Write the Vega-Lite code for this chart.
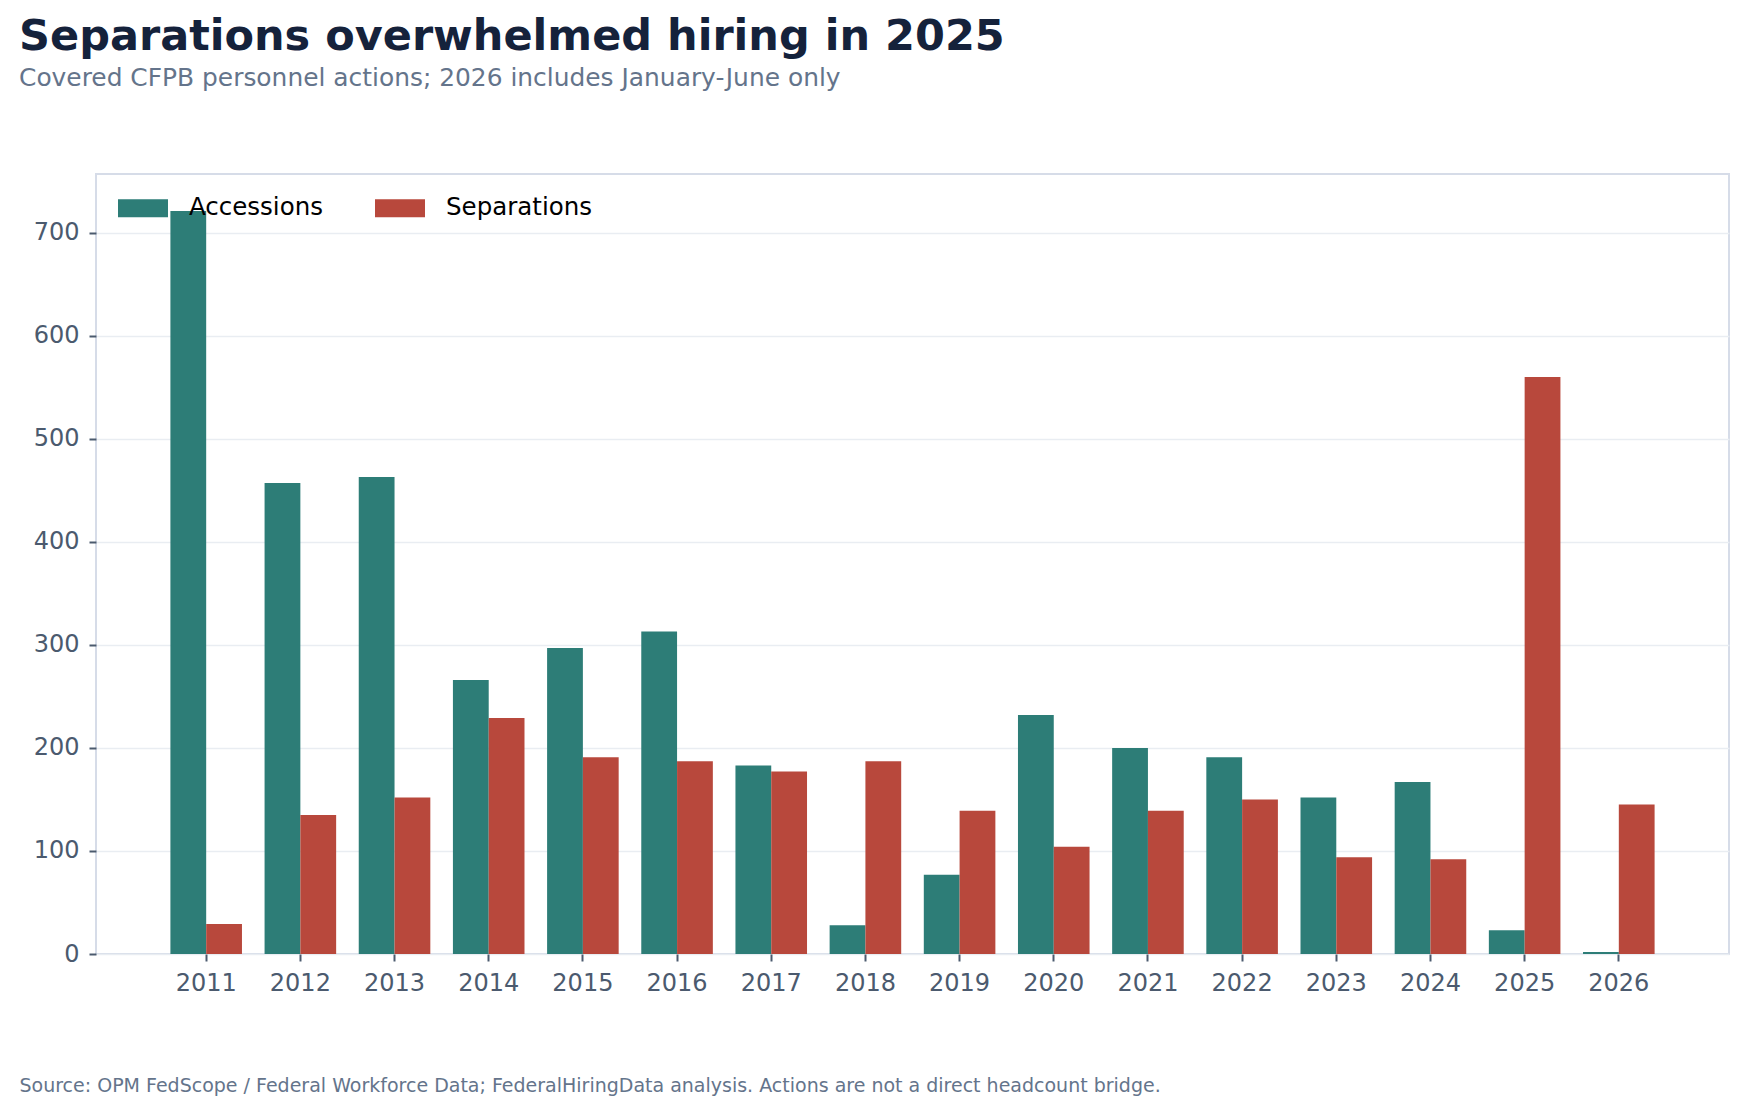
{
  "$schema": "https://vega.github.io/schema/vega-lite/v6.json",
  "width": 1633,
  "height": 780,
  "autosize": {"type": "none"},
  "padding": {"left": 96, "top": 174, "right": 17, "bottom": 160},
  "background": "white",
  "title": {
    "text": "Separations overwhelmed hiring in 2025",
    "subtitle": "Covered CFPB personnel actions; 2026 includes January-June only",
    "anchor": "start",
    "frame": "group",
    "dx": -77,
    "offset": 83,
    "font": "DejaVu Sans",
    "fontSize": 43,
    "fontWeight": "bold",
    "color": "#15223b",
    "subtitleFont": "DejaVu Sans",
    "subtitleFontSize": 24.9,
    "subtitleColor": "#64748b",
    "subtitlePadding": 7
  },
  "config": {
    "font": "DejaVu Sans",
    "view": {"stroke": "#d6dce8", "strokeWidth": 2}
  },
  "data": {
    "values": [
      {"year": "2011", "series": "Accessions", "count": 721},
      {"year": "2011", "series": "Separations", "count": 29},
      {"year": "2012", "series": "Accessions", "count": 457},
      {"year": "2012", "series": "Separations", "count": 135},
      {"year": "2013", "series": "Accessions", "count": 463},
      {"year": "2013", "series": "Separations", "count": 152},
      {"year": "2014", "series": "Accessions", "count": 266},
      {"year": "2014", "series": "Separations", "count": 229},
      {"year": "2015", "series": "Accessions", "count": 297},
      {"year": "2015", "series": "Separations", "count": 191},
      {"year": "2016", "series": "Accessions", "count": 313},
      {"year": "2016", "series": "Separations", "count": 187},
      {"year": "2017", "series": "Accessions", "count": 183},
      {"year": "2017", "series": "Separations", "count": 177},
      {"year": "2018", "series": "Accessions", "count": 28},
      {"year": "2018", "series": "Separations", "count": 187},
      {"year": "2019", "series": "Accessions", "count": 77},
      {"year": "2019", "series": "Separations", "count": 139},
      {"year": "2020", "series": "Accessions", "count": 232},
      {"year": "2020", "series": "Separations", "count": 104},
      {"year": "2021", "series": "Accessions", "count": 200},
      {"year": "2021", "series": "Separations", "count": 139},
      {"year": "2022", "series": "Accessions", "count": 191},
      {"year": "2022", "series": "Separations", "count": 150},
      {"year": "2023", "series": "Accessions", "count": 152},
      {"year": "2023", "series": "Separations", "count": 94},
      {"year": "2024", "series": "Accessions", "count": 167},
      {"year": "2024", "series": "Separations", "count": 92},
      {"year": "2025", "series": "Accessions", "count": 23},
      {"year": "2025", "series": "Separations", "count": 560},
      {"year": "2026", "series": "Accessions", "count": 2},
      {"year": "2026", "series": "Separations", "count": 145}
    ]
  },
  "mark": {"type": "bar"},
  "encoding": {
    "x": {
      "field": "year",
      "type": "ordinal",
      "scale": {"paddingInner": 0.24, "paddingOuter": 0.79},
      "axis": {
        "title": "Source: OPM FedScope / Federal Workforce Data; FederalHiringData analysis. Actions are not a direct headcount bridge.",
        "titleAnchor": "start",
        "titleAlign": "left",
        "titleBaseline": "middle",
        "titleX": -77,
        "titleY": 131,
        "titleFontSize": 19,
        "titleFontWeight": "normal",
        "titleColor": "#64748b",
        "labelAngle": 0,
        "labelFontSize": 24,
        "labelColor": "#4b5a6e",
        "labelPadding": 10,
        "domain": false,
        "grid": false,
        "tickSize": 7,
        "tickWidth": 2,
        "tickColor": "#4b5a6e"
      }
    },
    "xOffset": {"field": "series", "sort": ["Accessions", "Separations"]},
    "y": {
      "field": "count",
      "type": "quantitative",
      "scale": {"domain": [0, 757], "nice": false, "zero": true},
      "axis": {
        "title": null,
        "values": [0, 100, 200, 300, 400, 500, 600, 700],
        "labelFontSize": 24,
        "labelColor": "#4b5a6e",
        "labelPadding": 10,
        "domain": false,
        "tickSize": 7,
        "tickWidth": 2,
        "tickColor": "#4b5a6e",
        "gridColor": "#e9edf2",
        "gridWidth": 1.5
      }
    },
    "color": {
      "field": "series",
      "type": "nominal",
      "scale": {"domain": ["Accessions", "Separations"], "range": ["#2d7d77", "#b8483c"]},
      "legend": {
        "title": null,
        "orient": "none",
        "legendX": 22,
        "legendY": 9,
        "direction": "horizontal",
        "symbolType": "M-1,-0.36L1,-0.36L1,0.36L-1,0.36Z",
        "symbolSize": 2500,
        "symbolStrokeWidth": 0,
        "symbolOpacity": 1,
        "labelFont": "DejaVu Sans",
        "labelFontSize": 24.5,
        "labelColor": "black",
        "labelOffset": 21,
        "columnPadding": 52
      }
    }
  }
}
